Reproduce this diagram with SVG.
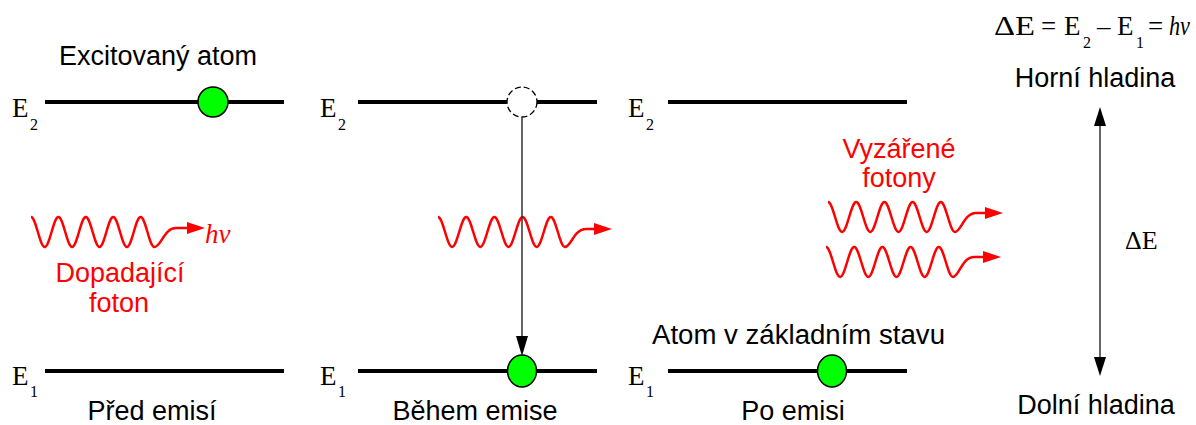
<svg xmlns="http://www.w3.org/2000/svg" width="1196" height="425" viewBox="0 0 1196 425">
<style>
.lvl{stroke:#000;stroke-width:4;fill:none}
.sans{font-family:"Liberation Sans",Arial,sans-serif;font-size:27px;fill:#000}
.red{fill:#ff0000}
.serif{font-family:"Liberation Serif","Times New Roman",serif;font-size:27px;fill:#000}
.sub{font-family:"Liberation Serif","Times New Roman",serif;font-size:16px;fill:#000}
.atom{fill:#00ff00;stroke:#000;stroke-width:1.5}
.wave{fill:none;stroke:#ff0000;stroke-width:2.5}
.whead{fill:#ff0000}
.conn{stroke:#333;stroke-width:1.5;fill:none}
</style>
<rect width="1196" height="425" fill="#fff"/>

<g id="levels">
  <line class="lvl" x1="45" y1="102" x2="284" y2="102"/>
  <line class="lvl" x1="358" y1="102" x2="597" y2="102"/>
  <line class="lvl" x1="668" y1="102" x2="907" y2="102"/>
  <line class="lvl" x1="45" y1="371" x2="284" y2="371"/>
  <line class="lvl" x1="358" y1="371" x2="597" y2="371"/>
  <line class="lvl" x1="668" y1="371" x2="907" y2="371"/>
</g>

<g id="level-labels">
  <text class="serif" x="12" y="117">E</text><text class="sub" x="30" y="130">2</text>
  <text class="serif" x="320" y="117">E</text><text class="sub" x="338" y="130">2</text>
  <text class="serif" x="628" y="117">E</text><text class="sub" x="646" y="130">2</text>
  <text class="serif" x="12" y="385">E</text><text class="sub" x="30" y="397">1</text>
  <text class="serif" x="320" y="385">E</text><text class="sub" x="338" y="397">1</text>
  <text class="serif" x="628" y="385">E</text><text class="sub" x="646" y="397">1</text>
</g>

<g id="atom-excited">
  <circle class="atom" cx="213" cy="102" r="15"/>
</g>
<g id="atom-empty">
  <circle cx="522" cy="102" r="15" fill="#fff" stroke="#000" stroke-width="1.3" stroke-dasharray="6 3"/>
</g>
<g id="atom-ground-mid">
  <ellipse class="atom" cx="522" cy="371" rx="14.5" ry="16"/>
</g>
<g id="atom-ground-right">
  <ellipse class="atom" cx="832" cy="371" rx="14.5" ry="16"/>
</g>

<g id="photon-incident">
  <path class="wave" d="M31 217 C36 217 39.7 247 44.7 247 S53.4 217 58.4 217 S67.1 247 72.1 247 S80.8 217 85.8 217 S94.5 247 99.5 247 S108.2 217 113.2 217 S121.9 247 126.9 247 S135.6 217 140.6 217 S149.3 247 154.3 247 C161 247 164 228 176 228 L190 228"/>
  <polygon class="whead" points="187,222 205,228 187,234"/>
  <text x="205" y="243" style="font-family:'Liberation Serif','Times New Roman',serif;font-style:italic;font-size:27px" class="red">hν</text>
  <text class="sans red" x="120" y="282" text-anchor="middle">Dopadající</text>
  <text class="sans red" x="119" y="312" text-anchor="middle">foton</text>
</g>

<g id="photon-during">
  <path class="wave" d="M438 217 C443.1 217 447 247 452.1 247 S461.1 217 466.2 217 S475.2 247 480.3 247 S489.3 217 494.4 217 S503.4 247 508.5 247 S517.5 217 522.6 217 S531.6 247 536.7 247 S545.7 217 550.8 217 S559.8 247 564.9 247 C571 247 574 229 586 229 L597 229"/>
  <polygon class="whead" points="594,223 612,229 594,235"/>
</g>

<g id="photons-emitted">
  <path class="wave" d="M828 202 C833.1 202 837 232 842.1 232 S851.1 202 856.2 202 S865.2 232 870.3 232 S879.3 202 884.4 202 S893.4 232 898.5 232 S907.5 202 912.6 202 S921.6 232 926.7 232 S935.7 202 940.8 202 S949.8 232 954.9 232 C961 232 964 213 976 213 L988 213"/>
  <polygon class="whead" points="985,207 1003,213 985,219"/>
  <path class="wave" d="M826 247 C831.1 247 835 277 840.1 277 S849.1 247 854.2 247 S863.2 277 868.3 277 S877.3 247 882.4 247 S891.4 277 896.5 277 S905.5 247 910.6 247 S919.6 277 924.7 277 S933.7 247 938.8 247 S947.8 277 952.9 277 C959 277 962 257 974 257 L986 257"/>
  <polygon class="whead" points="983,251 1001,257 983,263"/>
  <text class="sans red" x="899" y="158" text-anchor="middle">Vyzářené</text>
  <text class="sans red" x="899" y="187" text-anchor="middle">fotony</text>
</g>

<g id="captions">
  <text class="sans" x="158" y="65" text-anchor="middle">Excitovaný atom</text>
  <text class="sans" x="152" y="420" text-anchor="middle">Před emisí</text>
  <text class="sans" x="475" y="420" text-anchor="middle">Během emise</text>
  <text class="sans" x="793" y="420" text-anchor="middle">Po emisi</text>
  <text class="sans" x="652" y="344" textLength="293" lengthAdjust="spacingAndGlyphs">Atom v základním stavu</text>
  <text class="sans" x="1095" y="87" text-anchor="middle">Horní hladina</text>
  <text class="sans" x="1096" y="414" text-anchor="middle">Dolní hladina</text>
</g>

<g id="formula" style="font-family:'Liberation Serif','Times New Roman',serif;font-size:27px">
  <text x="994" y="35" textLength="41" lengthAdjust="spacingAndGlyphs">ΔE</text>
  <text x="1041" y="35">=</text>
  <text x="1064" y="35">E</text>
  <text class="sub" x="1083" y="48">2</text>
  <text x="1097" y="35">–</text>
  <text x="1117" y="35">E</text>
  <text class="sub" x="1136" y="48">1</text>
  <text x="1148" y="35">=</text>
  <text x="1169" y="35" font-style="italic" textLength="21" lengthAdjust="spacingAndGlyphs">hν</text>
</g>

<g id="delta-e-label">
  <text class="serif" x="1125" y="249" style="font-size:26px">ΔE</text>
</g>

<g id="connectors">
  <line class="conn" x1="522" y1="117" x2="522" y2="338"/>
  <polygon points="516,336 522,356 528,336" fill="#000"/>
  <line class="conn" x1="1100" y1="122" x2="1100" y2="360"/>
  <polygon points="1094,126 1100,107 1106,126" fill="#000"/>
  <polygon points="1094,357 1100,376 1106,357" fill="#000"/>
</g>
</svg>
